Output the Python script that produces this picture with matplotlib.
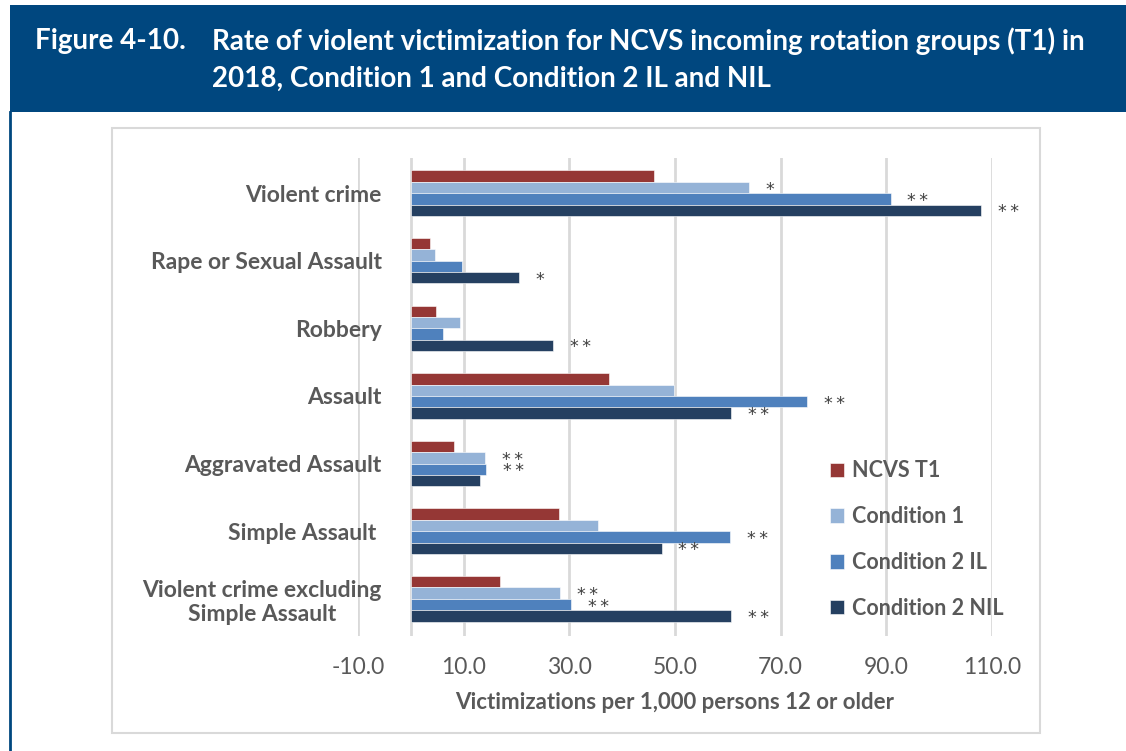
import numpy as np
import matplotlib
matplotlib.use("Agg")
import matplotlib.pyplot as plt
from matplotlib.patches import Rectangle

plt.rcParams['font.family'] = ['Lato', 'DejaVu Sans']

# data
categories = ["Violent crime", "Rape or Sexual Assault", "Robbery", "Assault",
              "Aggravated Assault", "Simple Assault ", "Violent crime excluding\nSimple Assault"]
series = ["NCVS T1", "Condition 1", "Condition 2 IL", "Condition 2 NIL"]
ncvs_t1 = [46.1, 3.7, 4.7, 37.6, 8.2, 28.1, 16.8]
cond1 = [64.0, 4.5, 9.4, 49.8, 14.1, 35.5, 28.3]
cond2_il = [90.8, 9.6, 6.1, 75.0, 14.3, 60.4, 30.3]
cond2_nil = [108.0, 20.4, 26.9, 60.6, 13.0, 47.5, 60.6]
stars_ncvs = ["", "", "", "", "", "", ""]
stars_c1 = ["*", "", "", "", "**", "", "**"]
stars_il = ["**", "", "", "**", "**", "**", "**"]
stars_nil = ["**", "*", "**", "**", "", "**", "**"]
xticks = [-10, 10, 30, 50, 70, 90, 110]

colors = ['#953735', '#95B3D7', '#4F81BD', '#254061']
values = [ncvs_t1, cond1, cond2_il, cond2_nil]
stars = [stars_ncvs, stars_c1, stars_il, stars_nil]
grey = '#595959'

fig = plt.figure(figsize=(11.26, 7.51), dpi=100)
W, H = 1126, 751

# title banner and frame
fig.patches.append(Rectangle((10 / W, 1 - 112 / H), 1, 107 / H, transform=fig.transFigure,
                             facecolor='#00477F', edgecolor='none', zorder=-2))
fig.lines.append(plt.Line2D([10 / W, 10 / W], [0, 1 - 112 / H], transform=fig.transFigure,
                            color='#00477F', linewidth=2, zorder=-2))
fig.patches.append(Rectangle((112 / W, 1 - 733 / H), 928 / W, 605 / H, transform=fig.transFigure,
                             facecolor='none', edgecolor='#D9D9D9', linewidth=1.5, zorder=-2))
fig.text(35 / W, 1 - 41 / H, "Figure 4-10.", color='white', fontsize=20, fontweight='bold',
         va='center', ha='left')
fig.text(212 / W, 1 - 41 / H,
         "Rate of violent victimization for NCVS incoming rotation groups (T1) in",
         color='white', fontsize=20, fontweight='bold', va='center', ha='left')
fig.text(212 / W, 1 - 79 / H, "2018, Condition 1 and Condition 2 IL and NIL",
         color='white', fontsize=20, fontweight='bold', va='center', ha='left')

ax = fig.add_axes([358 / W, 1 - 636 / H, 634 / W, 478 / H])
y = np.arange(len(categories))
bh = 0.168
offsets = [-1.5, -0.5, 0.5, 1.5]
for vals, col, off, lab, st in zip(values, colors, offsets, series, stars):
    ax.barh(y + off * bh, vals, height=bh, color=col, edgecolor='white', linewidth=0.4,
            label=lab, zorder=3)
    for yi, v, s in zip(y, vals, st):
        if s:
            ax.annotate("\u2009".join(s), (v, yi + off * bh), xytext=(12, -1.5),
                        textcoords='offset points', ha='left', va='center', fontsize=12.5,
                        color='#404040', family='DejaVu Sans', annotation_clip=False)

ax.set_xlim(-10, 110)
ax.set_ylim(6.55, -0.52)
ax.set_xticks(xticks)
ax.set_xticklabels([f"{t:.1f}" for t in xticks], color=grey, fontsize=16.5)
ax.set_yticks(y)
ax.set_yticklabels(categories, fontsize=16.5, fontweight='bold', color=grey, multialignment='center')
ax.tick_params(axis='both', length=0)
ax.tick_params(axis='x', pad=15)
ax.tick_params(axis='y', pad=-17)
for sp in ax.spines.values():
    sp.set_visible(False)
ax.grid(axis='x', color='#D9D9D9', linewidth=2, zorder=0)
ax.axvline(0, color='#D9D9D9', linewidth=2, zorder=1)
ax.set_xlabel("Victimizations per 1,000 persons 12 or older", fontsize=16, fontweight='bold',
              color=grey, labelpad=10)

leg = ax.legend(loc='upper left', bbox_to_anchor=(811 / W, 1 - 441 / H), bbox_transform=fig.transFigure,
                frameon=False, handlelength=0.65, handleheight=0.65, handletextpad=0.35,
                labelspacing=1.15, prop={'size': 15.5, 'weight': 'bold'})
for t in leg.get_texts():
    t.set_color(grey)

fig.savefig("out.png", dpi=100)
